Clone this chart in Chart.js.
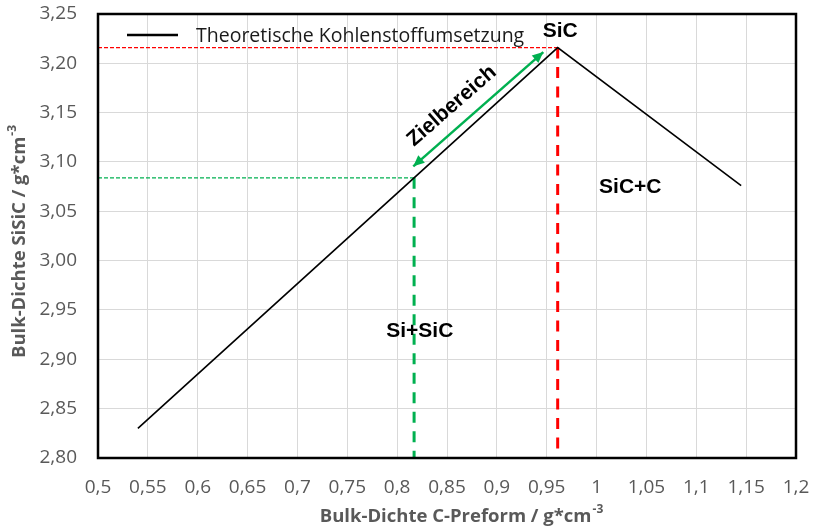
<!DOCTYPE html>
<html><head><meta charset="utf-8">
<script src="https://cdn.jsdelivr.net/npm/chart.js@4.4.0/dist/chart.umd.min.js"></script>
<style>html,body{margin:0;padding:0;background:#fff;} #wrap{width:814px;height:529px;}</style>
</head><body><div id="wrap"><canvas id="c" width="814" height="529"></canvas></div>
<script>
// ---- data ----
const xTicks = [0.5,0.55,0.6,0.65,0.7,0.75,0.8,0.85,0.9,0.95,1.0,1.05,1.1,1.15,1.2];
const xTickLabels = ['0,5','0,55','0,6','0,65','0,7','0,75','0,8','0,85','0,9','0,95','1','1,05','1,1','1,15','1,2'];
const yTicks = [2.80,2.85,2.90,2.95,3.00,3.05,3.10,3.15,3.20,3.25];
const yTickLabels = ['2,80','2,85','2,90','2,95','3,00','3,05','3,10','3,15','3,20','3,25'];
const seriesLabel = 'Theoretische Kohlenstoffumsetzung';
const lineX = [0.54, 0.961, 1.145];
const lineY = [2.83, 3.216, 3.076];
const greenMarkX = [0.5, 0.817, 0.817];
const greenMarkY = [3.084, 3.084, 2.80];
const redMarkX = [0.5, 0.961, 0.961];
const redMarkY = [3.216, 3.216, 2.80];
const arrowX = [0.8162, 0.9466];
const arrowY = [3.0956, 3.2114];
const noteTexts = ['SiC', 'SiC+C', 'Si+SiC', 'Zielbereich'];
const noteX = [0.9636, 1.0338, 0.8227, 0.8548];
const noteY = [3.2323, 3.074, 2.929, 3.1567];
const xTitle = 'Bulk-Dichte C-Preform / g*cm';
const yTitle = 'Bulk-Dichte SiSiC / g*cm';
const unitExp = '-3';

// ---- build ----
const pts = (xs, ys) => xs.map((v, i) => ({x: v, y: ys[i]}));
const GREEN = '#00b050', RED = '#ff0000';
const noteRot = [0, 0, 0, -41.2];

const deco = {
  id: 'deco',
  afterDatasetsDraw(chart) {
    const {ctx, chartArea: a, scales: {x, y}} = chart;
    ctx.save();
    // arrowheads
    const p0 = {x: x.getPixelForValue(arrowX[0]), y: y.getPixelForValue(arrowY[0])};
    const p1 = {x: x.getPixelForValue(arrowX[1]), y: y.getPixelForValue(arrowY[1])};
    const head = (tip, from) => {
      const ang = Math.atan2(tip.y - from.y, tip.x - from.x);
      const L = 11, W = 5;
      ctx.beginPath();
      ctx.moveTo(tip.x, tip.y);
      ctx.lineTo(tip.x - L*Math.cos(ang) + W*Math.sin(ang), tip.y - L*Math.sin(ang) - W*Math.cos(ang));
      ctx.lineTo(tip.x - L*Math.cos(ang) - W*Math.sin(ang), tip.y - L*Math.sin(ang) + W*Math.cos(ang));
      ctx.closePath();
      ctx.fillStyle = GREEN; ctx.fill();
    };
    head(p0, p1); head(p1, p0);
    // notes
    ctx.fillStyle = '#000';
    ctx.font = 'bold 21px "Liberation Sans", Arial, sans-serif';
    ctx.textAlign = 'center'; ctx.textBaseline = 'middle';
    noteTexts.forEach((t, i) => {
      ctx.save();
      ctx.translate(x.getPixelForValue(noteX[i]), y.getPixelForValue(noteY[i]));
      ctx.rotate(noteRot[i] * Math.PI / 180);
      ctx.fillText(t, 0, 0);
      ctx.restore();
    });
    // border
    ctx.strokeStyle = '#000'; ctx.lineWidth = 2.5;
    ctx.strokeRect(a.left, a.top, a.right - a.left, a.bottom - a.top);
    // legend
    const ly = a.top + 21;
    ctx.beginPath(); ctx.moveTo(a.left + 29, ly); ctx.lineTo(a.left + 80, ly);
    ctx.lineWidth = 2.5; ctx.strokeStyle = '#000'; ctx.stroke();
    ctx.fillStyle = '#1a1a1a'; ctx.textAlign = 'left'; ctx.textBaseline = 'middle';
    ctx.font = '19.5px "Open Sans", sans-serif';
    ctx.fillText(chart.data.datasets[0].label, a.left + 98, ly + 1);
    // axis titles
    const titled = (txt, cx, cy, rot) => {
      ctx.save();
      ctx.translate(cx, cy); ctx.rotate(rot);
      ctx.fillStyle = '#595959'; ctx.textBaseline = 'middle'; ctx.textAlign = 'left';
      ctx.font = 'bold 18.5px "Open Sans", sans-serif';
      const w = ctx.measureText(txt).width;
      ctx.font = 'bold 12px "Open Sans", sans-serif';
      const ws = ctx.measureText(unitExp).width;
      const sx = -(w + ws) / 2;
      ctx.font = 'bold 18.5px "Open Sans", sans-serif';
      ctx.fillText(txt, sx, 0);
      ctx.font = 'bold 12px "Open Sans", sans-serif';
      ctx.fillText(unitExp, sx + w + 1, -7);
      ctx.restore();
    };
    titled(xTitle, (a.left + a.right) / 2 + 14, a.bottom + 59, 0);
    titled(yTitle, a.left - 78, (a.top + a.bottom) / 2 + 6, -Math.PI / 2);
    ctx.restore();
  }
};

const zeroPad = s => { s.paddingTop = 0; s.paddingBottom = 0; s.paddingLeft = 0; s.paddingRight = 0; };

new Chart(document.getElementById('c'), {
  type: 'scatter',
  data: {
    datasets: [
      {label: seriesLabel, data: pts(lineX, lineY), showLine: true, borderColor: '#000', borderWidth: 1.6, pointRadius: 0, fill: false},
      {label: 'g1', data: pts(greenMarkX.slice(0, 2), greenMarkY.slice(0, 2)), showLine: true, borderColor: GREEN, borderWidth: 1.2, borderDash: [4, 2], pointRadius: 0},
      {label: 'g2', data: pts(greenMarkX.slice(1), greenMarkY.slice(1)), showLine: true, borderColor: GREEN, borderWidth: 3, borderDash: [11, 8.5], pointRadius: 0},
      {label: 'r1', data: pts(redMarkX.slice(0, 2), redMarkY.slice(0, 2)), showLine: true, borderColor: RED, borderWidth: 1.2, borderDash: [4, 2], pointRadius: 0},
      {label: 'r2', data: pts(redMarkX.slice(1), redMarkY.slice(1)), showLine: true, borderColor: RED, borderWidth: 3, borderDash: [11, 8.5], pointRadius: 0},
      {label: 'arrow', data: pts(arrowX, arrowY), showLine: true, borderColor: GREEN, borderWidth: 2.5, pointRadius: 0}
    ]
  },
  options: {
    responsive: false, animation: false, devicePixelRatio: 1,
    layout: {padding: {left: 0, top: 14, right: 18, bottom: 0}},
    plugins: {legend: {display: false}, tooltip: {enabled: false}},
    scales: {
      x: {
        type: 'linear', min: 0.5, max: 1.2,
        afterBuildTicks: s => { s.ticks = xTicks.map(v => ({value: v})); },
        afterFit: s => { s.height = 71; zeroPad(s); },
        ticks: {autoSkip: false, maxRotation: 0, padding: 18, color: '#595959',
          font: {family: '"Open Sans", sans-serif', size: 19},
          callback: (v, i) => xTickLabels[i]},
        grid: {color: '#d9d9d9', lineWidth: 1, drawTicks: false},
        border: {display: false}
      },
      y: {
        type: 'linear', min: 2.8, max: 3.25,
        afterBuildTicks: s => { s.ticks = yTicks.map(v => ({value: v})); },
        afterFit: s => { s.width = 98; zeroPad(s); },
        ticks: {autoSkip: false, padding: 21, color: '#595959',
          font: {family: '"Open Sans", sans-serif', size: 19},
          callback: (v, i) => yTickLabels[i]},
        grid: {color: '#d9d9d9', lineWidth: 1, drawTicks: false},
        border: {display: false}
      }
    }
  },
  plugins: [deco]
});
</script></body></html>
